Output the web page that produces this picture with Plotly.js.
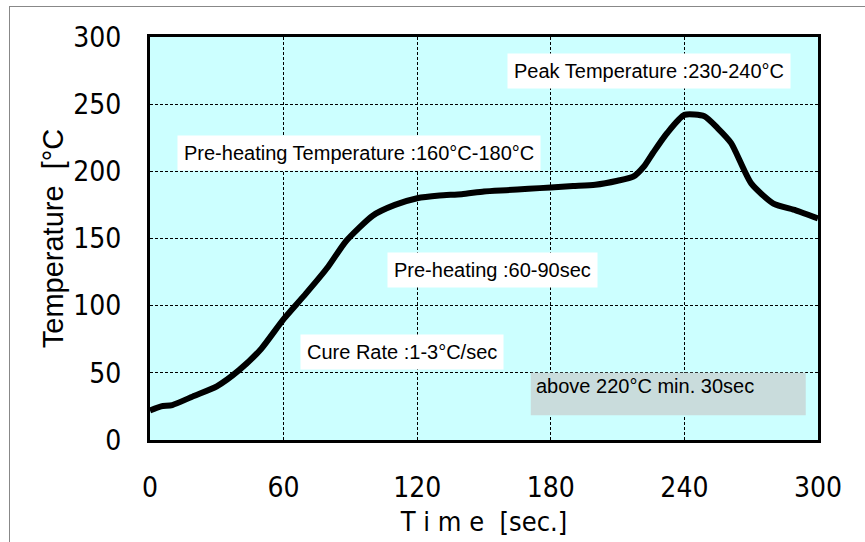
<!DOCTYPE html>
<html>
<head>
<meta charset="utf-8">
<script src="https://cdn.plot.ly/plotly-3.0.1.min.js"></script>
<style>
html,body{margin:0;padding:0;background:#fff;}
#wrap{position:relative;width:865px;height:542px;}
#chart{width:865px;height:542px;}
#frame{position:absolute;left:9px;top:6px;right:-2px;bottom:-2px;border-left:1px solid #888;border-top:1px solid #888;pointer-events:none;}
</style>
</head>
<body>
<div id="wrap"><div id="chart"></div><div id="frame"></div></div>
<script>
// Reflow profile
const timeSec = [0, 5, 10, 20, 30, 40, 50, 60, 70, 80, 88, 100, 110, 120, 130, 140, 150, 160, 170, 180, 190, 200, 210, 217, 222, 226, 232, 240, 249, 255, 261, 270, 280, 290, 300];
const tempC   = [22, 25, 26, 33, 40, 52, 68, 90, 109, 129, 148, 167, 175, 180, 182, 183, 185, 186, 187, 188, 189, 190, 193, 196, 204, 214, 228, 242, 241, 232, 221, 191, 176, 171, 165];
const xTicks = [0, 60, 120, 180, 240, 300];
const yTicks = [0, 50, 100, 150, 200, 250, 300];
const notes = [
  {text: "Peak Temperature :230-240°C", x: 224, y: 275},
  {text: "Pre-heating Temperature :160°C-180°C", x: 94, y: 213.5},
  {text: "Pre-heating :60-90sec", x: 154, y: 126.5},
  {text: "Cure Rate :1-3°C/sec", x: 113, y: 65.5}
];
const grayNote = {text: "above 220°C min. 30sec", x0: 171, x1: 294.5, y0: 18.5, y1: 50};

const tickFont = {family: "DejaVu Sans Condensed, sans-serif", size: 28, color: "#000"};
const noteFont = {family: "Liberation Sans, Arial, sans-serif", size: 20, color: "#000"};

const annotations = notes.map(n => ({
  text: n.text, x: n.x, y: n.y, xref: "x", yref: "y", showarrow: false,
  font: noteFont, bgcolor: "#ffffff", borderpad: 6
}));
annotations.push({
  text: grayNote.text, x: grayNote.x0, y: grayNote.y1, xref: "x", yref: "y",
  xanchor: "left", yanchor: "top", xshift: 3, yshift: 0, showarrow: false, font: noteFont
});

const layout = {
  width: 865, height: 542,
  margin: {l: 150, r: 47, t: 37, b: 102},
  paper_bgcolor: "#ffffff",
  plot_bgcolor: "#ccffff",
  showlegend: false,
  xaxis: {
    range: [0, 300], tickvals: xTicks, ticktext: xTicks.map(String),
    showgrid: true, gridcolor: "#000", griddash: "3px,2px", gridwidth: 1,
    zeroline: false, showline: true, linecolor: "#000", linewidth: 3, mirror: true,
    ticks: "", tickfont: tickFont, ticklabelstandoff: 20,
    title: {text: "T i m e  [sec.]", font: {family: "DejaVu Sans Condensed, sans-serif", size: 27, color: "#000"}, standoff: 10}
  },
  yaxis: {
    range: [0, 300], tickvals: yTicks, ticktext: yTicks.map(String),
    showgrid: true, gridcolor: "#000", griddash: "3px,2px", gridwidth: 1,
    zeroline: false, showline: true, linecolor: "#000", linewidth: 3, mirror: true,
    ticks: "", tickfont: tickFont, ticklabelstandoff: 20,
    title: {text: "Temperature  [°C", font: {family: "Liberation Sans, Arial, sans-serif", size: 29, color: "#000"}, standoff: 2}
  },
  shapes: [{
    type: "rect", xref: "x", yref: "y", x0: grayNote.x0, x1: grayNote.x1, y0: grayNote.y0, y1: grayNote.y1,
    fillcolor: "#c9dcdc", line: {width: 0}, layer: "above"
  }],
  annotations: annotations
};

const trace = {
  x: timeSec, y: tempC, type: "scatter", mode: "lines",
  line: {color: "#000", width: 6, shape: "spline", smoothing: 0.6},
  hoverinfo: "skip"
};

Plotly.newPlot("chart", [trace], layout, {staticPlot: true, displayModeBar: false});
</script>
</body>
</html>
